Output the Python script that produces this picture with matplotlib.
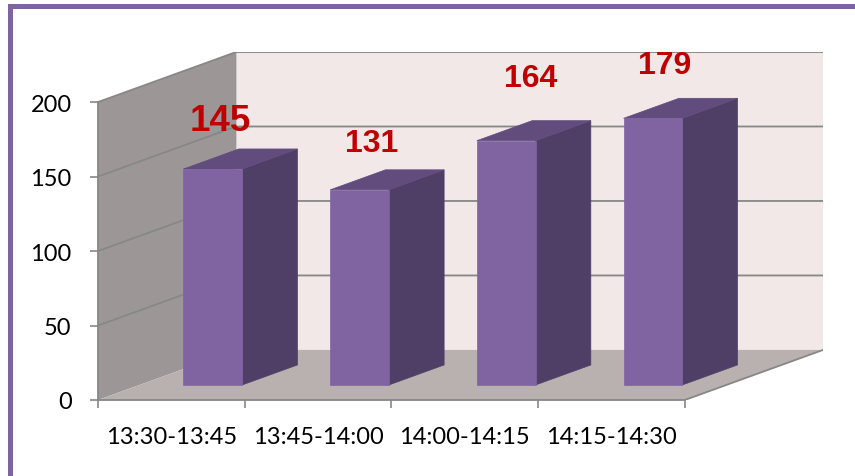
import matplotlib
matplotlib.use("Agg")
import matplotlib.pyplot as plt
from matplotlib.patches import Polygon, Rectangle

# visitor counts per 15-minute slot
slots = ["13:30-13:45", "13:45-14:00", "14:00-14:15", "14:15-14:30"]
counts = [145, 131, 164, 179]
y_ticks = [0, 50, 100, 150, 200]

# label nudges (pixels) relative to the top-front centre of each bar
label_dx = [7, 12, 24, 12]
label_dy = [39, 39, 55, 45]
label_size = [26.5, 23, 23, 23]

# fake 3d: depth shift of the back wall in data units
DX, DY = 0.942, 33.6
Z0, Z1 = 0.3, 0.7          # bar depth span
BW = 0.4                   # bar width (gap width 150%)

PURPLE = "#8064A2"
PURPLE_TOP = "#614C7D"
PURPLE_SIDE = "#4F3F67"
WALL_BACK = "#F3E8E8"
WALL_LEFT = "#9C9796"
FLOOR = "#B9B0B0"
GRID = "#878787"


def shift(x, y, z):
    return (x + DX * z, y + DY * z)


fig = plt.figure(figsize=(8.55, 4.77), dpi=100)
W, H = 855, 477
ax = fig.add_axes([98 / W, (H - 401) / H, (823 - 98) / W, (401 - 53) / H])
ax.set_xlim(0, len(slots) + DX)
ax.set_ylim(0, 200 + DY)
ax.patch.set_visible(False)

n = len(slots)
ymax = y_ticks[-1]

# walls and floor
ax.add_patch(Polygon([shift(0, 0, 1), shift(n, 0, 1), shift(n, ymax, 1), shift(0, ymax, 1)],
                     closed=True, fc=WALL_BACK, ec="#D9D9D9", lw=0.8, zorder=1))
ax.add_patch(Polygon([shift(0, 0, 0), shift(0, 0, 1), shift(0, ymax, 1), shift(0, ymax, 0)],
                     closed=True, fc=WALL_LEFT, ec="none", zorder=1))
for v in y_ticks[1:]:
    xs, ys = zip(shift(0, v, 0), shift(0, v, 1), shift(n, v, 1))
    ax.plot(xs, ys, color=GRID, lw=1.3, zorder=2, solid_capstyle="butt")
ax.add_patch(Polygon([shift(0, 0, 0), shift(n, 0, 0), shift(n, 0, 1), shift(0, 0, 1)],
                     closed=True, fc=FLOOR, ec="none", zorder=3))
xs, ys = zip(shift(n, 0, 0), shift(n, 0, 1))
ax.plot(xs, ys, color=GRID, lw=1.3, zorder=4)

# bars
for i, v in enumerate(counts):
    x0, x1 = i + 0.5 - BW / 2, i + 0.5 + BW / 2
    front = [shift(x0, 0, Z0), shift(x1, 0, Z0), shift(x1, v, Z0), shift(x0, v, Z0)]
    side = [shift(x1, 0, Z0), shift(x1, 0, Z1), shift(x1, v, Z1), shift(x1, v, Z0)]
    top = [shift(x0, v, Z0), shift(x1, v, Z0), shift(x1, v, Z1), shift(x0, v, Z1)]
    ax.add_patch(Polygon(side, closed=True, fc=PURPLE_SIDE, ec=PURPLE_SIDE, lw=0.5, zorder=5))
    ax.add_patch(Polygon(top, closed=True, fc=PURPLE_TOP, ec=PURPLE_TOP, lw=0.5, zorder=5))
    ax.add_patch(Polygon(front, closed=True, fc=PURPLE, ec=PURPLE, lw=0.5, zorder=6))
    ax.annotate(str(v), xy=shift(i + 0.5, v, Z0), xytext=(label_dx[i], label_dy[i]),
                textcoords="offset pixels", ha="center", va="baseline",
                fontsize=label_size[i], fontweight="bold", color="#C00000",
                family="Liberation Sans", zorder=8, annotation_clip=False)

# axes lines and ticks
for s in ["top", "right"]:
    ax.spines[s].set_visible(False)
for s in ["left", "bottom"]:
    ax.spines[s].set_color(GRID)
    ax.spines[s].set_linewidth(1.3)
    ax.spines[s].set_zorder(7)
ax.spines["left"].set_bounds(0, ymax)
ax.spines["bottom"].set_bounds(0, n)

ax.set_yticks(y_ticks)
ax.set_yticklabels([str(t) for t in y_ticks])
ax.set_xticks(range(n + 1))
ax.set_xticklabels([])
ax.set_xticks([i + 0.5 for i in range(n)], minor=True)
ax.set_xticklabels(slots, minor=True)
ax.tick_params(axis="both", which="major", direction="out", length=6, width=1.2, color=GRID)
ax.tick_params(axis="y", pad=13, labelsize=17)
ax.tick_params(axis="x", which="minor", length=0, pad=19, labelsize=17)
for lbl in ax.get_yticklabels() + ax.get_xticklabels(minor=True):
    lbl.set_family("Lato")

# outer frame
fig.add_artist(Rectangle((8 / W, 0), 5 / W, (H - 5) / H, transform=fig.transFigure,
                         fc=PURPLE, ec="none"))
fig.add_artist(Rectangle((8 / W, (H - 10) / H), (W - 8) / W, 5 / H, transform=fig.transFigure,
                         fc=PURPLE, ec="none"))

fig.savefig("out.png", dpi=100)
